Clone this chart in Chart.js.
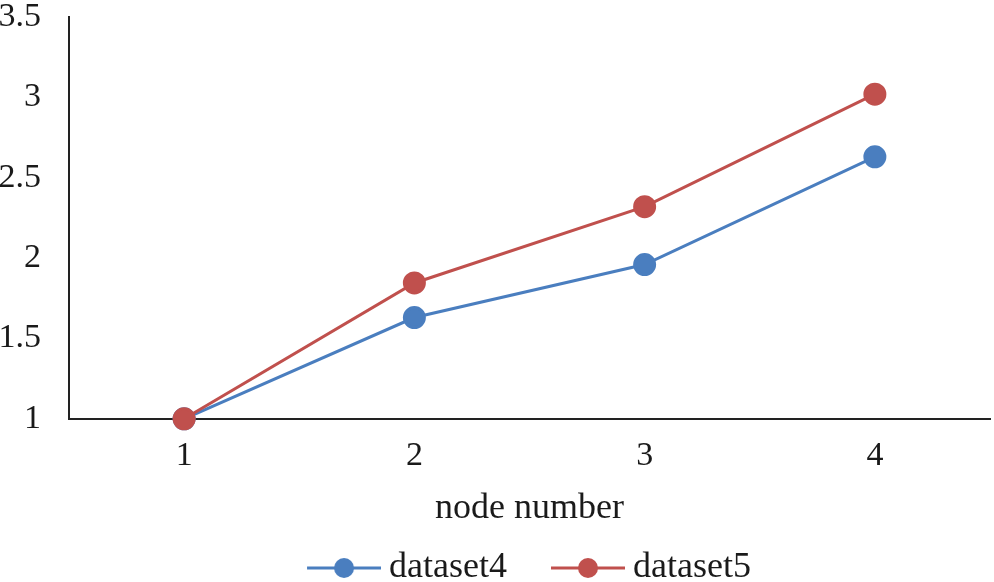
<!DOCTYPE html>
<html>
<head>
<meta charset="utf-8">
<script src="https://cdn.jsdelivr.net/npm/chart.js@4"></script>
<style>
  html, body { margin: 0; padding: 0; background: #fff; }
  canvas { display: block; }
</style>
</head>
<body>
<canvas id="chart" width="994" height="582"></canvas>
<script>
// Daten
const categories = ["1", "2", "3", "4"];
const dataset4 = [1.0, 1.63, 1.96, 2.63];
const dataset5 = [1.0, 1.845, 2.32, 3.02];
const yTicks = [1, 1.5, 2, 2.5, 3, 3.5];

const blue = "#4A7EBF";
const red = "#C0504D";
const textColor = "#1a1a1a";
const font = "'Liberation Serif', 'DejaVu Serif', serif";

// Legendensymbol: Linie mit Punkt (links transparenter Rand als Abstand)
function legendIcon(color) {
    const c = document.createElement("canvas");
    c.width = 124; c.height = 22;
    const g = c.getContext("2d");
    g.strokeStyle = color;
    g.lineWidth = 3;
    g.beginPath(); g.moveTo(50, 11); g.lineTo(124, 11); g.stroke();
    g.fillStyle = color;
    g.beginPath(); g.arc(87, 11, 10, 0, Math.PI * 2); g.fill();
    return c;
}
const icons = [legendIcon(blue), legendIcon(red)];

// Legende etwas nach rechts schieben (wie im Original)
const shiftLegend = {
    id: "shiftLegend",
    afterLayout(chart) {
        if (chart.legend) {
            chart.legend.left += 14;
            chart.legend.right += 14;
        }
    }
};

new Chart(document.getElementById("chart"), {
    type: "line",
    data: {
        labels: categories,
        datasets: [
            { label: "dataset4", data: dataset4, borderColor: blue, backgroundColor: blue, order: 2,
              borderWidth: 3, pointRadius: 10, pointHoverRadius: 10, tension: 0, clip: false },
            { label: "dataset5", data: dataset5, borderColor: red, backgroundColor: red, order: 1,
              borderWidth: 3, pointRadius: 10, pointHoverRadius: 10, tension: 0, clip: false }
        ]
    },
    plugins: [shiftLegend],
    options: {
        responsive: false,
        animation: false,
        layout: { autoPadding: false, padding: { left: 0, right: 4, top: -2, bottom: -14 } },
        plugins: {
            tooltip: { enabled: false },
            legend: {
                position: "bottom",
                labels: {
                    usePointStyle: true,
                    pointStyleWidth: 104,
                    boxHeight: 22,
                    padding: 4,
                    color: textColor,
                    font: { family: font, size: 36 },
                    sort: (a, b) => a.datasetIndex - b.datasetIndex,
                    generateLabels: (chart) => chart.data.datasets.map((ds, i) => ({
                        text: ds.label,
                        pointStyle: icons[i],
                        fillStyle: ds.borderColor,
                        strokeStyle: ds.borderColor,
                        lineWidth: 0,
                        hidden: false,
                        datasetIndex: i,
                        fontColor: textColor
                    }))
                }
            }
        },
        scales: {
            x: {
                offset: true,
                grid: { display: true, drawOnChartArea: false, drawTicks: true, tickLength: 20,
                        color: "rgba(0,0,0,0)" },
                border: { display: true, color: "#222", width: 2 },
                ticks: { color: textColor, padding: 0, font: { family: font, size: 34, lineHeight: 1 } },
                title: { display: true, text: "node number", color: textColor,
                         padding: { top: 14, bottom: 16 },
                         font: { family: font, size: 36, lineHeight: 1.2 } }
            },
            y: {
                min: 1, max: 3.5,
                afterBuildTicks: (scale) => { scale.ticks = yTicks.map(v => ({ value: v })); },
                afterFit: (scale) => { scale.width = 69; },
                grid: { display: true, drawOnChartArea: false, drawTicks: true, tickLength: 28,
                        color: "rgba(0,0,0,0)" },
                border: { display: true, color: "#222", width: 2 },
                ticks: { color: textColor, padding: 0, font: { family: font, size: 34, lineHeight: 1 },
                         callback: (v) => String(v) }
            }
        }
    }
});
</script>
</body>
</html>
